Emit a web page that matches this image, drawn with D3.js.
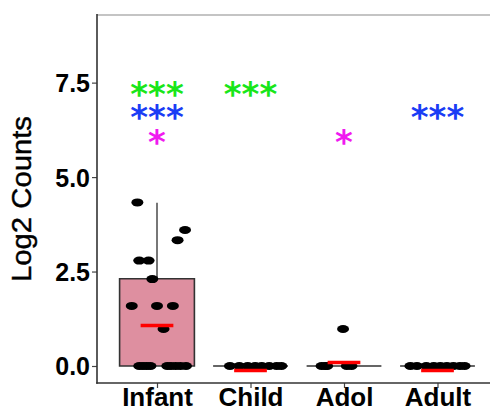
<!DOCTYPE html>
<html><head><meta charset="utf-8">
<script src="https://cdn.jsdelivr.net/npm/d3@7"></script>
<style>body{margin:0;background:#fff;}svg{display:block;}</style>
</head><body>
<svg id="chart" width="490" height="409"></svg>
<script>
// ---- data ----
const categories = ["Infant", "Child", "Adol", "Adult"];
const yTicks = [0, 2.5, 5.0, 7.5];
// box statistics
const boxQ1 = [0, 0, 0, 0];
const boxQ3 = [2.31, 0, 0, 0];
const whiskerHigh = [4.32, 0, 0, 0];
const meanValues = [1.07, -0.12, 0.09, -0.12];
// points: group index, jitter (in category units), value
const pointGroup = [0,0,0,0,0,0,0,0,0,0, 0,0,0,0,0,0,0,0,0,
                    1,1,1,1,1,1,1,1,
                    2,2,2,2,2,2,
                    3,3,3,3,3,3,3,3,3];
const pointJitter = [-0.21,0.30,0.22,-0.19,-0.09,-0.05,-0.27,0.0,0.17,0.07,
                     -0.19,-0.15,-0.11,-0.07,0.11,0.15,0.20,0.25,0.31,
                     -0.22,-0.12,-0.03,0.05,0.12,0.20,0.28,0.33,
                     -0.24,-0.18,0.03,0.08,-0.01,-0.20,
                     -0.29,-0.22,-0.12,-0.04,0.03,0.10,0.17,0.24,0.29];
const pointValue = [4.33,3.60,3.33,2.79,2.79,2.30,1.59,1.59,1.59,0.98,
                    0,0,0,0,0,0,0,0,0,
                    0,0,0,0,0,0,0,0,
                    0,0,0,0,0.98,0,
                    0,0,0,0,0,0,0,0,0];
// significance annotations
const sigGroup = [0, 0, 0, 1, 2, 3];
const sigValue = [7.33, 6.72, 6.06, 7.33, 6.06, 6.72];
const sigLabel = ["***", "***", "*", "***", "*", "***"];
const sigColor = ["#19e619", "#1a3cf5", "#f01af0", "#19e619", "#f01af0", "#1a3cf5"];

// ---- layout ----
const svg = d3.select("#chart");
const pLeft = 97, pTop = 15, pBottom = 383;
const x = d3.scalePoint().domain(categories).range([157, 437.5]);
const step = x.step();
const y = d3.scaleLinear().domain([-0.45, 9.29]).range([pBottom, pTop]);

// panel lines
svg.append("line").attr("x1", pLeft).attr("x2", 490).attr("y1", pTop).attr("y2", pTop)
  .attr("stroke", "#c4c4c4").attr("stroke-width", 2);

// boxes
const boxHalf = 0.4 * step;
categories.forEach((c, i) => {
  const cx = x(c);
  svg.append("line").attr("x1", cx).attr("x2", cx)
    .attr("y1", y(boxQ3[i])).attr("y2", y(whiskerHigh[i]))
    .attr("stroke", "#555").attr("stroke-width", 1.6);
  const x0 = cx - boxHalf, x1 = cx + boxHalf, y0 = y(boxQ1[i]), y1 = y(boxQ3[i]);
  svg.append("path")
    .attr("d", `M${x0},${y0}H${x1}V${y1}H${x0}Z`)
    .attr("fill", "#de8fa0").attr("stroke", "#333").attr("stroke-width", 1.6);
});

// points
pointValue.forEach((v, k) => {
  const cx = x(categories[pointGroup[k]]) + pointJitter[k] * step;
  svg.append("ellipse").attr("cx", cx).attr("cy", y(v))
    .attr("rx", 6).attr("ry", 4).attr("fill", "#000");
});

// mean lines
const meanHalf = 0.175 * step;
meanValues.forEach((m, i) => {
  const cx = x(categories[i]);
  svg.append("line").attr("x1", cx - meanHalf).attr("x2", cx + meanHalf)
    .attr("y1", y(m)).attr("y2", y(m))
    .attr("stroke", "#ff0000").attr("stroke-width", 3.5);
});

// axes
const yAxis = d3.axisLeft(y).tickValues(yTicks).tickFormat(d3.format(".1f")).tickSize(5).tickPadding(2);
const gy = svg.append("g").attr("transform", `translate(${pLeft},0)`).call(yAxis);
gy.select(".domain").remove();
gy.selectAll(".tick line").attr("stroke", "#444").attr("stroke-width", 1.2);
gy.selectAll(".tick text").attr("font-family", "Liberation Sans, Arial, sans-serif")
  .attr("font-weight", "bold").attr("font-size", 25).attr("fill", "#000").attr("dy", "0.36em");

const xAxis = d3.axisBottom(x).tickSize(5).tickPadding(0);
const gx = svg.append("g").attr("transform", `translate(0,${pBottom})`).call(xAxis);
gx.select(".domain").remove();
gx.selectAll(".tick line").attr("stroke", "#444").attr("stroke-width", 1.2);
gx.selectAll(".tick text").attr("font-family", "Liberation Sans, Arial, sans-serif")
  .attr("font-weight", "bold").attr("font-size", 26).attr("fill", "#000").attr("dy", "0.71em");

svg.append("line").attr("x1", pLeft).attr("x2", pLeft).attr("y1", pTop - 1).attr("y2", pBottom + 0.8)
  .attr("stroke", "#333").attr("stroke-width", 1.6);
svg.append("line").attr("x1", pLeft - 0.8).attr("x2", 490).attr("y1", pBottom).attr("y2", pBottom)
  .attr("stroke", "#333").attr("stroke-width", 1.6);

// y title
svg.append("text").attr("transform", "translate(31,199) rotate(-90)")
  .attr("text-anchor", "middle").attr("font-family", "Liberation Sans, Arial, sans-serif")
  .attr("font-size", 27).attr("textLength", 166).attr("lengthAdjust", "spacingAndGlyphs")
  .attr("fill", "#000").attr("stroke", "#000").attr("stroke-width", 0.4)
  .text("Log2 Counts");

// significance stars
const sigSize = 34;
sigValue.forEach((v, k) => {
  svg.append("text").attr("x", x(categories[sigGroup[k]]))
    .attr("y", y(v) + 0.49 * sigSize)
    .attr("text-anchor", "middle").attr("font-family", "DejaVu Sans, sans-serif")
    .attr("font-weight", "bold").attr("font-size", sigSize)
    .attr("fill", sigColor[k]).text(sigLabel[k]);
});
</script>
</body></html>
